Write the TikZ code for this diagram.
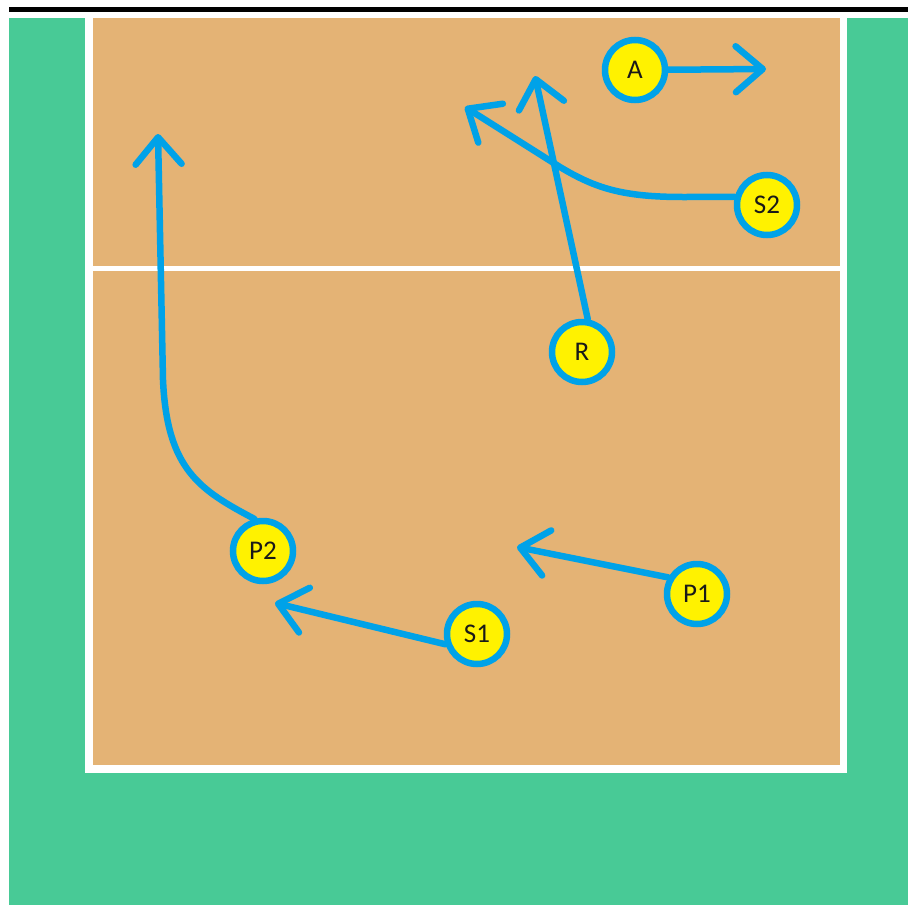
\documentclass[tikz,border=0pt]{standalone}
\usepackage{fontspec}
\setmainfont{Carlito}
\usetikzlibrary{arrows.meta}
\definecolor{courtgreen}{RGB}{72,202,150}
\definecolor{courtorange}{RGB}{228,179,117}
\definecolor{pblue}{RGB}{0,162,232}
\definecolor{pyellow}{RGB}{255,242,0}
\tikzset{
  player/.style={circle, draw=pblue, line width=6.5pt, fill=pyellow, minimum size=60pt, inner sep=0pt, text=black!90, font=\fontsize{27}{30}\selectfont},
  move/.style={draw=pblue, line width=6.5pt, line cap=round, line join=round, -{Straight Barb[length=27pt,width=46pt,round]}},
}
\begin{document}
\begin{tikzpicture}[x=1pt,y=-1pt]
\useasboundingbox (0,0) rectangle (908,905);
\fill[white] (0,0) rectangle (908,905);
\fill[black] (9,7) rectangle (908,12);
\fill[courtgreen] (9,18) rectangle (908,905);
\fill[white] (85,18) rectangle (847,773);
\fill[courtorange] (93,18) rectangle (840,765);
\fill[white] (93,265.5) rectangle (840,271);

\node[player] (A) at (635,70) {A};
\node[player] (S2) at (767,205) {S2};
\node[player] (R) at (582,352) {R};
\node[player] (P2) at (263,551) {P2};
\node[player] (P1) at (697,594) {P1};
\node[player] (S1) at (477,634) {S1};

\coordinate (atip) at (766,69);
\coordinate (s2tip) at (465,107);
\coordinate (rtip) at (535,76);
\coordinate (p2tip) at (158,134);
\coordinate (p1tip) at (517,547);
\coordinate (s1tip) at (275,603);

\draw[move] (A) -- (atip);
\draw[move] (S2.166) -- (683,197) .. controls (622,197) and (595,188) .. (560,167) -- (s2tip);
\draw[move] (R.80) -- (rtip);
\draw[move] (P2.105) .. controls (200,490) and (167,470) .. (163,380) -- (p2tip);
\draw[move] (P1.150) -- (p1tip);
\draw[move] (S1.198) -- (s1tip);
\end{tikzpicture}
\end{document}
